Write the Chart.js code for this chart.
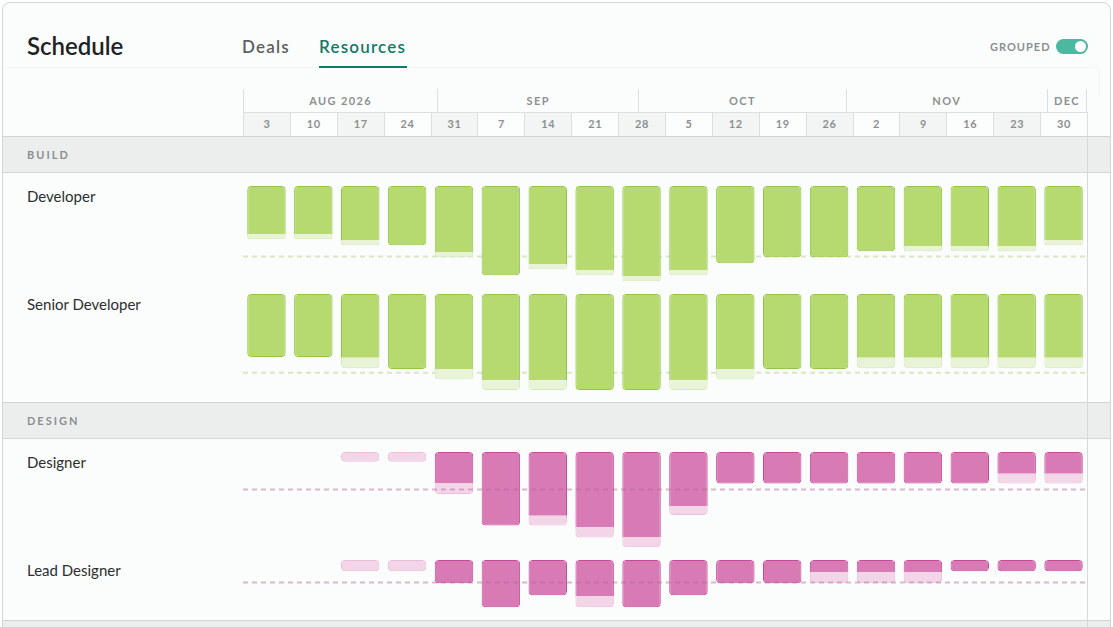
<!DOCTYPE html>
<html>
<head>
<meta charset="utf-8">
<title>Schedule</title>
<script src="https://cdn.jsdelivr.net/npm/chart.js@4.4.1/dist/chart.umd.min.js"></script>
<style>
  html, body { margin: 0; padding: 0; background: #ffffff; }
  body { position: relative; width: 1113px; height: 627px; overflow: hidden; font-family: Lato, "Noto Sans", sans-serif; }
  .abs { position: absolute; box-sizing: border-box; }
  #card { left: 2px; top: 2px; width: 1109px; height: 700px; border: 1px solid #d3d6d6; border-radius: 8px; background: #fbfcfc; }
  #title { left: 27px; top: 31px; font-size: 24px; font-weight: 600; line-height: 29px; color: #202323; }
  .tab { top: 36.5px; font-size: 17px; font-weight: 600; line-height: 20px; letter-spacing: 1.2px; }
  #tab-deals { left: 242px; color: #5d6161; }
  #tab-res { left: 319px; color: #127a66; }
  #tab-line { left: 319px; top: 66px; width: 88px; height: 2px; background: #127a66; }
  #grouped { left: 990px; top: 40px; font-size: 11px; font-weight: 700; line-height: 13px; letter-spacing: 1px; color: #8b8f8f; }
  #toggle { left: 1056px; top: 39px; width: 32px; height: 15px; border-radius: 8px; background: #4cb8a0; }
  #knob { left: 1075px; top: 41px; width: 11px; height: 11px; border-radius: 50%; background: #ffffff; }
  #panel { left: 3px; top: 67px; width: 1097px; height: 30px; border-top: 1px solid #f3f5f5; border-right: 1px solid #f3f5f5; border-top-right-radius: 6px; }
  .month { top: 89px; height: 23px; border-left: 1px solid #dcdfdf; font-size: 11px; font-weight: 700; line-height: 23px; letter-spacing: 1.4px; color: #8d9090; text-align: center; }
  .week { top: 112px; height: 24px; border-left: 1px solid #dcdfdf; border-top: 1px solid #dcdfdf; font-size: 11px; font-weight: 700; line-height: 22px; letter-spacing: 0.6px; color: #8d9090; text-align: center; }
  .band { left: 3px; width: 1107px; height: 37px; background: #eceeee; border-top: 1px solid #d0d4d4; border-bottom: 1px solid #d3d6d6; }
  .band span { position: absolute; left: 24px; top: 11px; font-size: 11px; font-weight: 700; line-height: 13px; letter-spacing: 2px; color: #8c8f8f; }
  .role { left: 27px; font-size: 15px; line-height: 18px; color: #2b2e2e; }
  #vline { left: 1087px; top: 136px; width: 1px; height: 500px; background: #d6d9d9; }
  .chartbox { left: 243px; width: 844px; }
</style>
</head>
<body>
<div id="card" class="abs"></div>
<div id="panel" class="abs"></div>
<div id="title" class="abs">Schedule</div>
<div id="tab-deals" class="abs tab">Deals</div>
<div id="tab-res" class="abs tab">Resources</div>
<div id="tab-line" class="abs"></div>
<div id="grouped" class="abs">GROUPED</div>
<div id="toggle" class="abs"></div>
<div id="knob" class="abs"></div>
<div id="header"></div>
<div id="rows"></div>
<div id="vline" class="abs"></div>

<script>
// week columns (Monday of each week), first week starts 3 Aug 2026
const WEEKS = ['3', '10', '17', '24', '31', '7', '14', '21', '28', '5', '12', '19', '26', '2', '9', '16', '23', '30'];
const MONTHS = ['AUG 2026', 'SEP', 'OCT', 'NOV', 'DEC'];
const FIRST_WEEK = new Date(2026, 7, 3);

// hours per week: booked (solid) and tentative (light part under it)
const devBooked       = [32, 32, 36, 39.5, 44, 59.5, 52, 56, 60, 56, 51.5, 47.5, 47.5, 43.5, 40, 40, 40, 36];
const devTentative    = [3.5, 3.5, 3.5, 0, 3.5, 0, 3.5, 3.5, 3.5, 3.5, 0, 0, 0, 0, 3.5, 3.5, 3.5, 3.5];
const seniorBooked    = [42, 42, 42.5, 50, 50, 57.5, 57.5, 64, 64, 57.5, 50, 50, 50, 42.5, 42.5, 42.5, 42.5, 42.5];
const seniorTentative = [0, 0, 7, 0, 7, 6.5, 6.5, 0, 0, 6.5, 7, 0, 0, 7, 7, 7, 7, 7];
const designBooked    = [0, 0, 0, 0, 21, 49, 42.5, 50, 57, 36, 21, 21, 21, 21, 21, 21, 14.5, 14.5];
const designTentative = [0, 0, 6.5, 6.5, 7, 0, 6.5, 7, 6.5, 6, 0, 0, 0, 0, 0, 0, 6.5, 6.5];
const leadBooked      = [0, 0, 0, 0, 15.5, 31.5, 23.5, 24, 31.5, 23.5, 15.5, 15.5, 8, 8, 8, 7.5, 7.5, 7.5];
const leadTentative   = [0, 0, 7.5, 7.5, 0, 0, 0, 7.5, 0, 0, 0, 0, 7.5, 7.5, 7.5, 0, 0, 0];
// weekly capacity in hours (dashed line)
const capacity = { dev: 47, senior: 52.5, design: 25, lead: 15 };

const PX_PER_HOUR = 1.5;
const GRID_LEFT = 243;
const GRID_WIDTH = 844;

const GREEN = { fill: '#b6da70', line: '#91c545', light: '#e8f3d8', lightLine: '#d5e9b9', cap: '#d8e8c4' };
const PINK  = { fill: '#d87bb5', line: '#c94a9c', light: '#f3d5e8', lightLine: '#ecbcda', cap: 'rgba(185,100,155,0.45)' };

// ---- header: months and weeks ----
const header = document.getElementById('header');
const colW = GRID_WIDTH / WEEKS.length;
const totalDays = WEEKS.length * 7;
const dayDiff = (a, b) => Math.round((b - a) / 86400000);

MONTHS.forEach(function (label, i) {
    const start = Math.max(0, dayDiff(FIRST_WEEK, new Date(2026, 7 + i, 1)));
    const end = Math.min(totalDays, dayDiff(FIRST_WEEK, new Date(2026, 8 + i, 1)));
    const el = document.createElement('div');
    el.className = 'abs month';
    el.style.left = (GRID_LEFT + start / 7 * colW) + 'px';
    el.style.width = ((end - start) / 7 * colW) + 'px';
    if (i === MONTHS.length - 1) el.style.borderRight = '1px solid #dcdfdf';
    el.textContent = label;
    header.appendChild(el);
});

WEEKS.forEach(function (label, i) {
    const el = document.createElement('div');
    el.className = 'abs week';
    el.style.left = (GRID_LEFT + i * colW) + 'px';
    el.style.width = (colW + (i === WEEKS.length - 1 ? 1 : 0)) + 'px';
    el.style.background = i % 2 === 0 ? '#f3f5f5' : '#fcfdfd';
    if (i === WEEKS.length - 1) el.style.borderRight = '1px solid #dcdfdf';
    el.textContent = label;
    header.appendChild(el);
});

// ---- section bands and row labels ----
const rows = document.getElementById('rows');
function addBand(text, top) {
    const el = document.createElement('div');
    el.className = 'abs band';
    el.style.top = top + 'px';
    el.innerHTML = '<span>' + text + '</span>';
    rows.appendChild(el);
}
function addLabel(text, top) {
    const el = document.createElement('div');
    el.className = 'abs role';
    el.style.top = (top + 1) + 'px';
    el.textContent = text;
    rows.appendChild(el);
}
addBand('BUILD', 136);
addBand('DESIGN', 402);
addBand('', 620);

// dashed capacity line across the whole row
const capacityLine = {
    id: 'capacityLine',
    draw(chart, opts) {
        const y = chart.scales.y.getPixelForValue(opts.value);
        const ctx = chart.ctx;
        ctx.save();
        ctx.strokeStyle = opts.color;
        ctx.lineWidth = 2;
        ctx.setLineDash([5, 4]);
        ctx.beginPath();
        ctx.moveTo(chart.chartArea.left, y);
        ctx.lineTo(chart.chartArea.right, y);
        ctx.stroke();
        ctx.restore();
    },
    beforeDatasetsDraw(chart, args, opts) { if (!opts.onTop) this.draw(chart, opts); },
    afterDatasetsDraw(chart, args, opts) { if (opts.onTop) this.draw(chart, opts); }
};

function drawRow(name, top, height, booked, tentative, cap, colors, onTop) {
    addLabel(name, top);
    const box = document.createElement('div');
    box.className = 'abs chartbox';
    box.style.top = top + 'px';
    box.style.height = height + 'px';
    const canvas = document.createElement('canvas');
    box.appendChild(canvas);
    rows.appendChild(box);

    const R = 4;
    new Chart(canvas.getContext('2d'), {
        type: 'bar',
        data: {
            labels: WEEKS,
            datasets: [
                {
                    label: 'Booked',
                    data: booked,
                    backgroundColor: colors.fill,
                    borderColor: colors.line,
                    borderSkipped: false,
                    borderWidth: function (c) {
                        return { top: 1, left: 1, right: 1, bottom: tentative[c.dataIndex] > 0 ? 0 : 1 };
                    },
                    borderRadius: function (c) {
                        const r = tentative[c.dataIndex] > 0 ? 0 : R;
                        return { topLeft: R, topRight: R, bottomLeft: r, bottomRight: r };
                    }
                },
                {
                    label: 'Tentative',
                    data: tentative,
                    backgroundColor: colors.light,
                    borderColor: colors.lightLine,
                    borderSkipped: false,
                    borderWidth: function (c) {
                        return { top: booked[c.dataIndex] > 0 ? 0 : 1, left: 1, right: 1, bottom: 1 };
                    },
                    borderRadius: function (c) {
                        const r = booked[c.dataIndex] > 0 ? 0 : R;
                        return { topLeft: r, topRight: r, bottomLeft: R, bottomRight: R };
                    }
                }
            ]
        },
        options: {
            animation: false,
            responsive: true,
            maintainAspectRatio: false,
            layout: { padding: 0 },
            datasets: { bar: { categoryPercentage: 1, barPercentage: 0.82 } },
            scales: {
                x: { stacked: true, display: false },
                y: { stacked: true, display: false, reverse: true, min: 0, max: height / PX_PER_HOUR }
            },
            plugins: {
                legend: { display: false },
                tooltip: { enabled: false },
                capacityLine: { value: cap, color: colors.cap, onTop: onTop }
            }
        },
        plugins: [capacityLine]
    });
}

drawRow('Developer', 186, 99, devBooked, devTentative, capacity.dev, GREEN, false);
drawRow('Senior Developer', 294, 99, seniorBooked, seniorTentative, capacity.senior, GREEN, false);
drawRow('Designer', 452, 99, designBooked, designTentative, capacity.design, PINK, true);
drawRow('Lead Designer', 560, 60, leadBooked, leadTentative, capacity.lead, PINK, true);
</script>
</body>
</html>
